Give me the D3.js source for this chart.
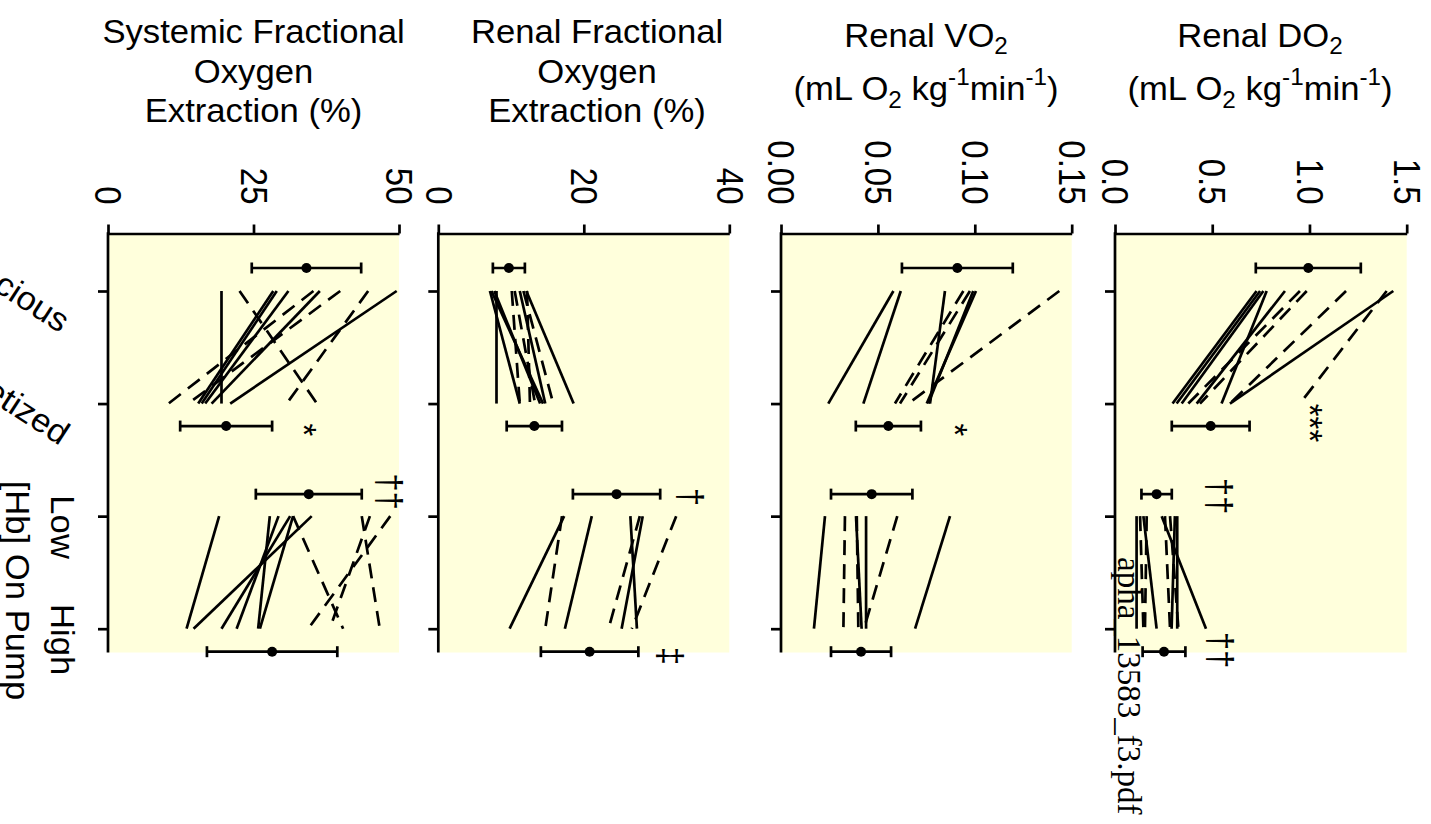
<!DOCTYPE html>
<html><head><meta charset="utf-8">
<script src="https://cdn.jsdelivr.net/npm/d3@7"></script>
<style>
body{margin:0;background:#fff}
svg{display:block}
text{font-family:"Liberation Sans",Arial,Helvetica,sans-serif;fill:#000}
</style>
</head><body>
<svg id="c" width="1431" height="824"></svg>
<script>
// ---------- data ----------
const categories = ["Conscious", "Anaesthetized", "Low", "High"];

// Panel 1: Systemic fractional oxygen extraction (%)
const sfoeAwake = [19.5, 49.6, 28.4, 29.0, 31.0, 36.4, 22.6, 35.3, 39.9, 44.7];
const sfoeAnaes = [19.5, 21.0, 15.5, 16.1, 16.7, 17.8, 35.9, 10.4, 13.8, 30.7];
const sfoeDashA = [0, 0, 0, 0, 0, 0, 1, 1, 1, 1];
const sfoeLow   = [19.1, 35.0, 27.8, 29.3, 31.3, 31.8, 31.8, 43.6, 48.5, 45.0];
const sfoeHigh  = [13.5, 14.7, 25.8, 22.1, 19.5, 26.1, 40.4, 46.7, 34.4, 38.1];
const sfoeDashB = [0, 0, 0, 0, 0, 0, 1, 1, 1, 1];
const sfoeMean  = [34.1, 20.3, 34.5, 28.2];
const sfoeSD    = [9.4, 7.9, 9.1, 11.2];

// Panel 2: Renal fractional oxygen extraction (%)
const rfoeAwake = [8.0, 7.1, 7.3, 7.7, 12.1, 11.2, 10.1, 10.5, 11.7, 12.2];
const rfoeAnaes = [8.0, 11.2, 14.4, 14.0, 18.6, 14.7, 11.2, 13.3, 15.8, 12.6];
const rfoeDashA = [0, 0, 0, 0, 0, 0, 1, 1, 1, 1];
const rfoeLow   = [17.3, 21.1, 26.4, 28.1, 17.0, 27.7, 32.7];
const rfoeHigh  = [9.8, 17.4, 27.3, 25.2, 14.7, 23.4, 26.6];
const rfoeDashB = [0, 0, 0, 0, 1, 1, 1];
const rfoeMean  = [9.7, 13.2, 24.5, 20.8];
const rfoeSD    = [2.2, 3.8, 6.0, 6.7];

// Panel 3: Renal VO2
const vo2Awake = [0.0580, 0.0618, 0.0846, 0.1006, 0.0992, 0.0941, 0.0975, 0.1436];
const vo2Anaes = [0.0244, 0.0425, 0.0769, 0.0752, 0.0760, 0.0588, 0.0614, 0.0657];
const vo2DashA = [0, 0, 0, 0, 0, 1, 1, 1];
const vo2Low   = [0.0227, 0.0387, 0.0439, 0.0872, 0.0330, 0.0391, 0.0600];
const vo2High  = [0.0170, 0.0416, 0.0439, 0.0692, 0.0322, 0.0399, 0.0428];
const vo2DashB = [0, 0, 0, 0, 1, 1, 1];
const vo2Mean  = [0.0910, 0.0554, 0.0468, 0.0413];
const vo2SD    = [0.0286, 0.0168, 0.0210, 0.0155];

// Panel 4: Renal DO2
const do2Awake = [0.728, 0.746, 0.763, 0.780, 0.874, 1.431, 0.951, 0.986, 1.188, 1.397];
const do2Anaes = [0.296, 0.317, 0.343, 0.548, 0.420, 0.591, 0.377, 0.437, 0.591, 0.951];
const do2DashA = [0, 0, 0, 0, 0, 0, 1, 1, 1, 1];
const do2Low   = [0.111, 0.146, 0.240, 0.308, 0.320, 0.129, 0.163, 0.257, 0.283];
const do2High  = [0.111, 0.214, 0.468, 0.291, 0.320, 0.146, 0.154, 0.283, 0.326];
const do2DashB = [0, 0, 0, 0, 0, 1, 1, 1, 1];
const do2Mean  = [0.994, 0.492, 0.214, 0.252];
const do2SD    = [0.270, 0.200, 0.078, 0.110];

const sfoeTicks = [0, 25, 50],           sfoeTickLabels = ["0", "25", "50"];
const rfoeTicks = [0, 20, 40],           rfoeTickLabels = ["0", "20", "40"];
const vo2Ticks  = [0, 0.05, 0.10, 0.15], vo2TickLabels  = ["0.00", "0.05", "0.10", "0.15"];
const do2Ticks  = [0, 0.5, 1.0, 1.5],    do2TickLabels  = ["0.0", "0.5", "1.0", "1.5"];

// significance marks: [category index, text]
const sfoeMarks = [[1, "*"], [2, "††"]];
const rfoeMarks = [[2, "†"], [3, "‡"]];
const vo2Marks  = [[1, "*"]];
const do2Marks  = [[1, "***"], [2, "††"], [3, "††"]];

// ---------- layout ----------
const svg = d3.select("#c");
const FS = 33;
const SW = 2.7;
const axisY = 233.5, plotTop = 235, plotBottom = 652.5;
const yCat = d3.scalePoint().domain(categories).range([291, 628.7]);
const meanOff = [-23, 22.5, -22, 23];

const panels = [
  {x0: 108, x1: 399, dom: [0, 50], ticks: sfoeTicks, labels: sfoeTickLabels, tc: 253.5,
   title: [["Systemic Fractional"], ["Oxygen"], ["Extraction (%)"]], tb: [43, 82.5, 122],
   a: sfoeAwake, b: sfoeAnaes, da: sfoeDashA, l: sfoeLow, h: sfoeHigh, db: sfoeDashB,
   m: sfoeMean, s: sfoeSD, marks: sfoeMarks, markPos: [[292, 430], [377, 491.5]]},
  {x0: 438.3, x1: 729.3, dom: [0, 40], ticks: rfoeTicks, labels: rfoeTickLabels, tc: 597,
   title: [["Renal Fractional"], ["Oxygen"], ["Extraction (%)"]], tb: [43, 82.5, 122],
   a: rfoeAwake, b: rfoeAnaes, da: rfoeDashA, l: rfoeLow, h: rfoeHigh, db: rfoeDashB,
   m: rfoeMean, s: rfoeSD, marks: rfoeMarks, markPos: [[678, 497], [658, 656]]},
  {x0: 781, x1: 1071.7, dom: [0, 0.15], ticks: vo2Ticks, labels: vo2TickLabels, tc: 926,
   title: "vo2", tb: [47, 100],
   a: vo2Awake, b: vo2Anaes, da: vo2DashA, l: vo2Low, h: vo2High, db: vo2DashB,
   m: vo2Mean, s: vo2SD, marks: vo2Marks, markPos: [[943, 430]]},
  {x0: 1115, x1: 1406.7, dom: [0, 1.5], ticks: do2Ticks, labels: do2TickLabels, tc: 1260,
   title: "do2", tb: [47, 100],
   a: do2Awake, b: do2Anaes, da: do2DashA, l: do2Low, h: do2High, db: do2DashB,
   m: do2Mean, s: do2SD, marks: do2Marks, markPos: [[1298, 423], [1207, 496], [1208, 650]]}
];

const DASH = "15,9";

panels.forEach((p, pi) => {
  const x = d3.scaleLinear().domain(p.dom).range([p.x0, p.x1]);
  const g = svg.append("g");

  // background
  g.append("rect").attr("x", p.x0).attr("y", plotTop)
    .attr("width", p.x1 - p.x0).attr("height", plotBottom - plotTop)
    .attr("fill", "#ffffdc");

  // top value axis
  const ax = g.append("g").attr("transform", `translate(0,${axisY})`)
    .call(d3.axisTop(x).tickValues(p.ticks).tickSize(9).tickSizeOuter(0)
      .tickFormat((d, i) => p.labels[i]));
  ax.select(".domain").attr("stroke", "#000").attr("stroke-width", SW);
  ax.selectAll(".tick line").attr("stroke", "#000").attr("stroke-width", SW);
  ax.selectAll(".tick text")
    .attr("x", null).attr("y", null).attr("dy", null)
    .attr("font-size", FS).attr("font-family", "Liberation Sans, Arial, sans-serif")
    .attr("text-anchor", "end")
    .attr("transform", "translate(-13.3,-29) rotate(90) scale(1,1.12)");

  // left category axis
  const ay = g.append("g").attr("transform", `translate(${p.x0},0)`)
    .call(d3.axisLeft(yCat).tickSize(10).tickSizeOuter(0).tickFormat(""));
  ay.select(".domain").remove();
  ay.selectAll(".tick line").attr("stroke", "#000").attr("stroke-width", SW);
  g.append("line").attr("x1", p.x0).attr("x2", p.x0)
    .attr("y1", axisY - 1.3).attr("y2", plotBottom)
    .attr("stroke", "#000").attr("stroke-width", SW);

  // subject lines
  const drawPairs = (va, vb, dash, ca, cb) => {
    g.selectAll(null).data(va.map((v, i) => ({v0: v, v1: vb[i], d: dash[i]})))
      .enter().append("line")
      .attr("x1", d => x(d.v0)).attr("y1", yCat(ca))
      .attr("x2", d => x(d.v1)).attr("y2", yCat(cb))
      .attr("stroke", "#000").attr("stroke-width", SW)
      .attr("stroke-dasharray", d => d.d ? DASH : null);
  };
  drawPairs(p.a, p.b, p.da, "Conscious", "Anaesthetized");
  drawPairs(p.l, p.h, p.db, "Low", "High");

  // mean ± SD
  categories.forEach((c, i) => {
    const y = yCat(c) + meanOff[i];
    const lo = x(p.m[i] - p.s[i]), hi = x(p.m[i] + p.s[i]);
    g.append("line").attr("x1", lo).attr("x2", hi).attr("y1", y).attr("y2", y)
      .attr("stroke", "#000").attr("stroke-width", SW);
    [lo, hi].forEach(cx => g.append("line").attr("x1", cx).attr("x2", cx)
      .attr("y1", y - 5.5).attr("y2", y + 5.5).attr("stroke", "#000").attr("stroke-width", SW));
    g.append("circle").attr("cx", x(p.m[i])).attr("cy", y).attr("r", 5).attr("fill", "#000");
  });

  // significance marks
  p.marks.forEach((mk, k) => {
    const [mx, my] = p.markPos[k];
    g.append("text").attr("transform", `translate(${mx},${my}) rotate(90) scale(1,1.08)`)
      .attr("text-anchor", "middle").attr("font-size", FS).text(mk[1]);
  });

  // titles
  const tt = (y) => g.append("text").attr("text-anchor", "middle")
    .attr("transform", `translate(${p.tc},${y}) scale(1.05,1)`).attr("font-size", FS);
  if (Array.isArray(p.title)) {
    p.title.forEach((ln, li) => tt(p.tb[li]).text(ln[0]));
  } else {
    const name = p.title === "vo2" ? "Renal VO" : "Renal DO";
    const t1 = tt(p.tb[0]);
    t1.append("tspan").text(name);
    t1.append("tspan").attr("font-size", FS * 0.7).attr("dy", 7).text("2");
    const t2 = tt(p.tb[1]);
    t2.append("tspan").text("(mL O");
    t2.append("tspan").attr("font-size", FS * 0.7).attr("dy", 8).text("2");
    t2.append("tspan").attr("dy", -8).text(" kg");
    t2.append("tspan").attr("font-size", FS * 0.7).attr("dy", -15).text("-1");
    t2.append("tspan").attr("dy", 15).text("min");
    t2.append("tspan").attr("font-size", FS * 0.7).attr("dy", -15).text("-1");
    t2.append("tspan").attr("dy", 15).text(")");
  }
});

// category labels (left of first panel; partly outside the page as in the source)
[["Conscious", 0], ["Anaesthetized", 1]].forEach(([lab, i]) => {
  svg.append("text").attr("text-anchor", "end").attr("font-size", FS)
    .attr("transform", `translate(60,${yCat(categories[i]) + 42.5}) rotate(33) scale(1.05,1)`)
    .text(lab);
});
[["Low", 2], ["High", 3]].forEach(([lab, i]) => {
  svg.append("text").attr("text-anchor", "middle").attr("font-size", FS)
    .attr("transform", `translate(51,${yCat(categories[i]) + 11}) rotate(90) scale(1.05,1)`)
    .text(lab);
});
svg.append("text").attr("text-anchor", "middle").attr("font-size", FS)
  .attr("transform", `translate(6,${(yCat("Low") + yCat("High")) / 2 + 18}) rotate(90) scale(1.05,1)`)
  .text("[Hb] On Pump");

// file-name overlay
svg.append("text")
  .style("font-family", "'Liberation Serif', 'Times New Roman', serif")
  .attr("font-size", 33).attr("transform", "translate(1118,557) rotate(90)")
  .text("apha_13583_f3.pdf");
</script>
</body></html>
